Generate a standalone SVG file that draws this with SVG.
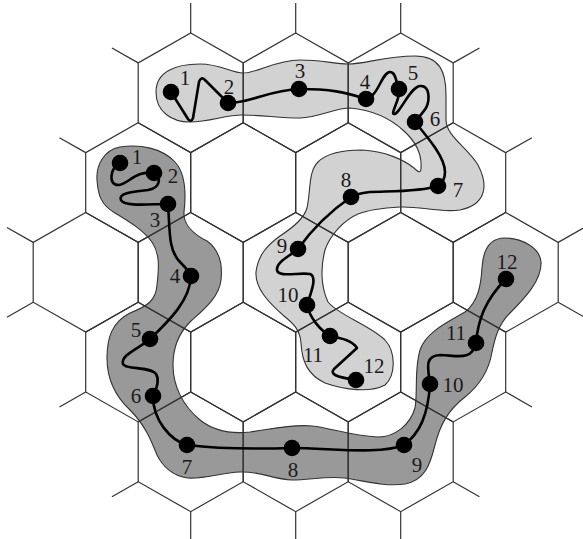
<svg xmlns="http://www.w3.org/2000/svg" width="583" height="539" viewBox="0 0 583 539">
<style>
.grid{fill:none;stroke:#333;stroke-width:1.2}
.blobL{fill:#d2d2d2;stroke:#333;stroke-width:1.1}
.blobD{fill:#999999;stroke:#333;stroke-width:1.1}
.chain{fill:none;stroke:#000;stroke-width:2.6;stroke-linecap:round;stroke-linejoin:round}
.dot{fill:#000}
.lbl{font-family:"Liberation Serif","Times New Roman",serif;font-size:21px;fill:#1a1a1a;text-anchor:middle}
</style>
<defs>
<path id="hx" d="M0,-59.84 L52.5,-29.92 L52.5,29.92 L0,59.84 L-52.5,29.92 L-52.5,-29.92Z"/>
</defs>
<rect width="583" height="539" fill="#fff"/>
<g id="region-light">
<path class="blobL" d="M156,92 C156,72 175,64 200,64 C220,64 232,73 243,73 C258,73 275,60 300,60 C322,60 335,64 348,64 C365,64 385,56 415,56 C440,56 446,72 446,95 L446,120 C446,136 468,148 478,165 C490,188 484,205 460,210 C440,213 420,206 400,207 C380,208 368,210 358,214 C344,220 330,235 325,250 C321,265 320,285 328,302 C338,315 370,325 385,340 C396,352 396,375 385,385 C370,393 345,390 325,383 C308,375 302,362 301,343 C300,330 294,324 284,316 C268,302 255,288 256,272 C258,256 266,246 280,236 C295,226 304,218 307,208 C311,190 308,172 318,162 C328,152 345,150 362,150 C385,151 404,160 414,168 C418,172 421,174 421,168 C422,155 416,142 404,131 C390,118 372,110 350,108 C335,108 320,117 300,118 C280,118 262,115 242,115 C225,115 210,122 190,122 C172,122 156,112 156,92 Z"/>
</g>
<g id="region-dark">
<path class="blobD" d="M97,180 C96,165 104,150 120,147 C140,144 162,148 175,162 C186,174 186,195 184,212 C183,225 195,235 207,241 C218,249 223,262 221,280 C219,298 203,310 190,322 C178,334 173,350 173,365 C173,385 182,405 200,420 C215,432 232,434 250,432 C272,429 292,424 312,426 C332,428 350,436 378,437 C395,437 410,425 415,408 C418,390 414,370 420,350 C426,332 448,322 465,312 C478,302 481,285 482,268 C483,250 490,238 505,238 C522,238 540,248 541,262 C542,280 525,298 510,313 C498,325 495,338 492,352 C489,370 480,385 465,397 C448,410 440,425 435,445 C430,465 425,480 405,484 C385,487 365,481 345,478 C325,476 310,480 292,480 C272,479 260,471 240,472 C220,473 205,479 188,478 C172,476 162,465 157,455 C151,440 145,425 130,410 C115,396 107,380 107,358 C107,338 112,322 130,313 C148,306 156,300 157,285 C159,268 160,254 152,242 C143,230 130,222 115,213 C101,205 98,195 97,180 Z"/>
</g>
<g id="grid" class="grid" transform="translate(295.7,272.3)">
<use href="#hx" x="-105" y="-179.52"/><use href="#hx" x="0" y="-179.52"/><use href="#hx" x="105" y="-179.52"/>
<use href="#hx" x="-157.5" y="-89.76"/><use href="#hx" x="-52.5" y="-89.76"/><use href="#hx" x="52.5" y="-89.76"/><use href="#hx" x="157.5" y="-89.76"/>
<use href="#hx" x="-210" y="0"/><use href="#hx" x="-105" y="0"/><use href="#hx" x="0" y="0"/><use href="#hx" x="105" y="0"/><use href="#hx" x="210" y="0"/>
<use href="#hx" x="-157.5" y="89.76"/><use href="#hx" x="-52.5" y="89.76"/><use href="#hx" x="52.5" y="89.76"/><use href="#hx" x="157.5" y="89.76"/>
<use href="#hx" x="-105" y="179.52"/><use href="#hx" x="0" y="179.52"/><use href="#hx" x="105" y="179.52"/>
<path d="M-105,-239.36 v-29.92 M0,-239.36 v-29.92 M105,-239.36 v-29.92 M-105,239.36 v29.92 M0,239.36 v29.92 M105,239.36 v29.92 M-157.5,-209.44 l-26.25,-14.96 M157.5,-209.44 l26.25,-14.96 M-157.5,209.44 l-26.25,14.96 M157.5,209.44 l26.25,14.96 M-210,-119.68 l-26.25,-14.96 M210,-119.68 l26.25,-14.96 M-210,119.68 l-26.25,14.96 M210,119.68 l26.25,14.96 M-262.5,-29.92 l-26.25,-14.96 M-262.5,29.92 l-26.25,14.96 M262.5,-29.92 l26.25,-14.96 M262.5,29.92 l26.25,14.96"/>
</g>
<g id="connectors" class="chain">
<path d="M171,92 L188,119 Q191,123 193,118 L199,82 Q201,76 205,80 L228,103"/>
<path d="M228,103 C250,103 270,90 299,89"/>
<path d="M299,89 C330,89 345,92 366,99"/>
<path d="M366,99 C378,97 382,72 390,72 C396,72 396,82 399,89"/>
<path d="M399,89 C401,98 390,114 394,114 C400,114 410,87 420,86 C430,85 430,100 426,108 C422,114 418,118 415,122"/>
<path d="M415,122 C430,140 445,158 445,172 C445,180 441,184 438,186"/>
<path d="M438,186 C420,192 390,191 370,192 C360,193 355,195 351,197"/>
<path d="M351,197 C335,208 315,225 298,249"/>
<path d="M298,249 C290,256 276,262 277,270 C278,278 300,272 310,274 C318,277 310,295 307,305"/>
<path d="M307,305 C310,318 320,330 330,336"/>
<path d="M330,336 C340,338 352,340 357,348 L334,369 C330,374 335,377 356,380"/>
<path d="M120,163 C110,168 108,185 118,185 C128,185 135,170 154,173"/>
<path d="M154,173 C162,178 160,188 148,190 C132,192 118,193 121,200 C124,207 150,204 168,204"/>
<path d="M168,204 C170,230 168,250 180,262 C186,268 190,272 191,276"/>
<path d="M191,276 C190,300 170,320 150,339"/>
<path d="M150,339 C140,348 120,355 123,364 C126,370 150,366 156,374 C160,380 156,390 153,396"/>
<path d="M153,396 C153,420 170,440 187,445"/>
<path d="M187,445 C220,449 260,449 292,448"/>
<path d="M292,448 C330,448 380,455 404,445"/>
<path d="M404,445 C420,433 428,415 430,384"/>
<path d="M430,384 C428,368 424,356 440,355 C455,355 472,362 476,343"/>
<path d="M476,343 C478,320 485,300 506,279"/>
</g>
<g id="L1"><circle class="dot" cx="171" cy="92" r="8.3"/><text class="lbl" x="185" y="85">1</text></g>
<g id="L2"><circle class="dot" cx="228" cy="103" r="8.3"/><text class="lbl" x="229" y="94">2</text></g>
<g id="L3"><circle class="dot" cx="299" cy="89" r="8.3"/><text class="lbl" x="300" y="78">3</text></g>
<g id="L4"><circle class="dot" cx="366" cy="99" r="8.3"/><text class="lbl" x="365" y="89">4</text></g>
<g id="L5"><circle class="dot" cx="399" cy="89" r="8.3"/><text class="lbl" x="413" y="80">5</text></g>
<g id="L6"><circle class="dot" cx="415" cy="122" r="8.3"/><text class="lbl" x="435" y="126">6</text></g>
<g id="L7"><circle class="dot" cx="438" cy="186" r="8.3"/><text class="lbl" x="458" y="197">7</text></g>
<g id="L8"><circle class="dot" cx="351" cy="197" r="8.3"/><text class="lbl" x="346" y="187">8</text></g>
<g id="L9"><circle class="dot" cx="298" cy="249" r="8.3"/><text class="lbl" x="282" y="253">9</text></g>
<g id="L10"><circle class="dot" cx="307" cy="305" r="8.3"/><text class="lbl" x="288" y="302">10</text></g>
<g id="L11"><circle class="dot" cx="330" cy="336" r="8.3"/><text class="lbl" x="313" y="362">11</text></g>
<g id="L12"><circle class="dot" cx="356" cy="380" r="8.3"/><text class="lbl" x="374" y="373">12</text></g>
<g id="D1"><circle class="dot" cx="120" cy="163" r="8.3"/><text class="lbl" x="137" y="164">1</text></g>
<g id="D2"><circle class="dot" cx="154" cy="173" r="8.3"/><text class="lbl" x="173" y="183">2</text></g>
<g id="D3"><circle class="dot" cx="168" cy="204" r="8.3"/><text class="lbl" x="155" y="227">3</text></g>
<g id="D4"><circle class="dot" cx="191" cy="276" r="8.3"/><text class="lbl" x="175" y="283">4</text></g>
<g id="D5"><circle class="dot" cx="150" cy="339" r="8.3"/><text class="lbl" x="136" y="337">5</text></g>
<g id="D6"><circle class="dot" cx="153" cy="396" r="8.3"/><text class="lbl" x="136" y="403">6</text></g>
<g id="D7"><circle class="dot" cx="187" cy="445" r="8.3"/><text class="lbl" x="187" y="474">7</text></g>
<g id="D8"><circle class="dot" cx="292" cy="448" r="8.3"/><text class="lbl" x="293" y="477">8</text></g>
<g id="D9"><circle class="dot" cx="404" cy="445" r="8.3"/><text class="lbl" x="417" y="472">9</text></g>
<g id="D10"><circle class="dot" cx="430" cy="384" r="8.3"/><text class="lbl" x="453" y="392">10</text></g>
<g id="D11"><circle class="dot" cx="476" cy="343" r="8.3"/><text class="lbl" x="456" y="340">11</text></g>
<g id="D12"><circle class="dot" cx="506" cy="279" r="8.3"/><text class="lbl" x="507" y="269">12</text></g>
</svg>
